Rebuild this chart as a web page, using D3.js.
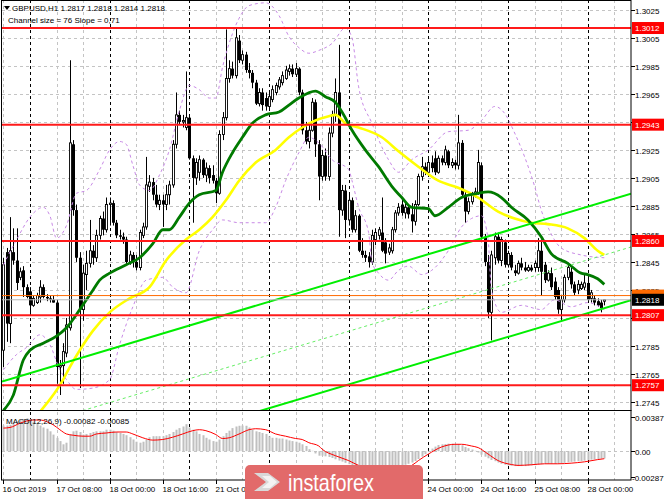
<!DOCTYPE html>
<html><head><meta charset="utf-8">
<script src="https://cdn.jsdelivr.net/npm/d3@7/dist/d3.min.js"></script>
<style>body{margin:0;background:#fff}svg{display:block}text{font-family:"Liberation Sans",Arial,sans-serif}</style>
</head><body><svg id="c" width="665" height="499"></svg>
<script>
// ---------- DATA ----------
const symbolTitle = "GBPUSD,H1  1.2817 1.2818 1.2814 1.2818";
const channelTitle = "Channel size = 76 Slope = 0,71";
const macdTitle = "MACD(12,26,9) -0.00082 -0.00085";
// [open, high, low, close] per H1 bar, 16 Oct 16:00 .. 28 Oct 05:00
const candles = [
[1.2782,1.2848,1.2770,1.2843],[1.2852,1.2855,1.2788,1.2801],[1.2801,1.2877,1.2787,1.2853],[1.2852,1.2869,1.2843,1.2846],[1.2846,1.2869,1.2825,1.2830],
[1.2834,1.2841,1.2832,1.2838],[1.2839,1.2842,1.2820,1.2827],[1.2827,1.2829,1.2819,1.2820],[1.2824,1.2827,1.2809,1.2814],[1.2814,1.2821,1.2813,1.2819],
[1.2816,1.2823,1.2815,1.2821],[1.2820,1.2832,1.2816,1.2827],[1.2827,1.2829,1.2819,1.2820],[1.2820,1.2822,1.2817,1.2819],[1.2819,1.2821,1.2816,1.2818],
[1.2818,1.2821,1.2816,1.2816],[1.2816,1.2818,1.2758,1.2770],[1.2770,1.2775,1.2750,1.2771],[1.2771,1.2787,1.2758,1.2781],[1.2780,1.2805,1.2777,1.2800],
[1.2798,1.2989,1.2796,1.2930],[1.2929,1.2932,1.2878,1.2882],[1.2882,1.2886,1.2845,1.2848],[1.2848,1.2852,1.2755,1.2811],[1.2811,1.2843,1.2803,1.2837],
[1.2836,1.2853,1.2825,1.2844],[1.2844,1.2875,1.2841,1.2853],[1.2853,1.2857,1.2843,1.2848],[1.2848,1.2868,1.2845,1.2864],[1.2864,1.2878,1.2861,1.2876],
[1.2876,1.2881,1.2864,1.2868],[1.2868,1.2891,1.2866,1.2886],[1.2886,1.2891,1.2871,1.2887],[1.2887,1.2889,1.2871,1.2873],[1.2873,1.2875,1.2862,1.2864],
[1.2864,1.2868,1.2861,1.2863],[1.2863,1.2866,1.2858,1.2861],[1.2861,1.2863,1.2843,1.2845],[1.2845,1.2853,1.2843,1.2850],[1.2850,1.2852,1.2841,1.2845],
[1.2845,1.2850,1.2839,1.2841],[1.2841,1.2868,1.2839,1.2866],[1.2864,1.2873,1.2862,1.2870],[1.2870,1.2920,1.2868,1.2900],[1.2899,1.2907,1.2895,1.2902],
[1.2902,1.2905,1.2889,1.2893],[1.2893,1.2900,1.2884,1.2886],[1.2886,1.2893,1.2882,1.2889],[1.2889,1.2893,1.2870,1.2886],[1.2886,1.2900,1.2882,1.2893],
[1.2893,1.2903,1.2886,1.2900],[1.2900,1.2932,1.2898,1.2929],[1.2929,1.2966,1.2926,1.2950],[1.2950,1.2953,1.2943,1.2945],[1.2945,1.2950,1.2941,1.2946],
[1.2941,1.2981,1.2939,1.2948],[1.2948,1.2950,1.2918,1.2919],[1.2919,1.2921,1.2873,1.2905],[1.2905,1.2919,1.2900,1.2916],[1.2909,1.2921,1.2903,1.2918],
[1.2918,1.2919,1.2905,1.2907],[1.2907,1.2916,1.2902,1.2912],[1.2912,1.2914,1.2901,1.2905],[1.2907,1.2914,1.2901,1.2903],[1.2903,1.2905,1.2887,1.2894],
[1.2894,1.2939,1.2893,1.2936],[1.2936,1.2952,1.2932,1.2948],[1.2948,1.3011,1.2946,1.2976],[1.2976,1.2989,1.2973,1.2983],[1.2983,1.2988,1.2976,1.2978],
[1.2978,1.3012,1.2976,1.3005],[1.3003,1.3007,1.2987,1.2989],[1.2989,1.2996,1.2986,1.2993],[1.2993,1.2995,1.2980,1.2982],[1.2982,1.2987,1.2976,1.2980],
[1.2980,1.2982,1.2969,1.2973],[1.2973,1.2975,1.2957,1.2958],[1.2958,1.2969,1.2956,1.2966],[1.2966,1.2969,1.2953,1.2957],[1.2962,1.2966,1.2953,1.2956],
[1.2956,1.2966,1.2953,1.2963],[1.2961,1.2971,1.2959,1.2968],[1.2966,1.2973,1.2964,1.2971],[1.2970,1.2977,1.2968,1.2975],[1.2973,1.2981,1.2971,1.2978],
[1.2976,1.2985,1.2975,1.2982],[1.2981,1.2986,1.2978,1.2983],[1.2983,1.2986,1.2977,1.2979],[1.2979,1.2987,1.2977,1.2983],[1.2983,1.2984,1.2964,1.2966],
[1.2966,1.2968,1.2936,1.2939],[1.2939,1.2945,1.2929,1.2931],[1.2931,1.2943,1.2926,1.2939],[1.2939,1.2962,1.2938,1.2959],[1.2959,1.2961,1.2920,1.2929],
[1.2929,1.2932,1.2889,1.2906],[1.2906,1.2925,1.2903,1.2921],[1.2921,1.2926,1.2903,1.2906],[1.2906,1.2941,1.2903,1.2937],[1.2937,1.2953,1.2934,1.2950],
[1.2950,1.2976,1.2945,1.2966],[1.2966,1.3000,1.2863,1.2882],[1.2882,1.2900,1.2878,1.2896],[1.2896,1.2900,1.2862,1.2875],[1.2875,1.2893,1.2871,1.2889],
[1.2889,1.2891,1.2866,1.2868],[1.2868,1.2882,1.2866,1.2878],[1.2878,1.2879,1.2852,1.2853],[1.2853,1.2862,1.2848,1.2850],[1.2850,1.2853,1.2845,1.2848],
[1.2849,1.2852,1.2841,1.2845],[1.2845,1.2868,1.2843,1.2864],[1.2861,1.2869,1.2857,1.2866],[1.2864,1.2870,1.2861,1.2868],[1.2866,1.2891,1.2852,1.2853],
[1.2859,1.2862,1.2844,1.2851],[1.2852,1.2858,1.2850,1.2855],[1.2853,1.2870,1.2851,1.2868],[1.2868,1.2882,1.2866,1.2880],[1.2880,1.2887,1.2878,1.2884],
[1.2886,1.2891,1.2878,1.2880],[1.2880,1.2887,1.2876,1.2884],[1.2884,1.2886,1.2876,1.2879],[1.2879,1.2887,1.2866,1.2874],[1.2874,1.2889,1.2871,1.2886],
[1.2886,1.2908,1.2885,1.2906],[1.2906,1.2920,1.2903,1.2913],[1.2913,1.2916,1.2907,1.2909],[1.2909,1.2919,1.2908,1.2916],[1.2916,1.2921,1.2909,1.2912],
[1.2919,1.2924,1.2907,1.2909],[1.2909,1.2921,1.2908,1.2919],[1.2919,1.2921,1.2914,1.2916],[1.2916,1.2928,1.2914,1.2925],[1.2924,1.2925,1.2912,1.2914],
[1.2914,1.2919,1.2912,1.2916],[1.2916,1.2918,1.2911,1.2914],[1.2914,1.2950,1.2911,1.2930],[1.2930,1.2932,1.2891,1.2893],[1.2893,1.2895,1.2873,1.2881],
[1.2881,1.2891,1.2879,1.2888],[1.2888,1.2895,1.2886,1.2893],[1.2893,1.2898,1.2891,1.2895],[1.2894,1.2925,1.2893,1.2916],[1.2914,1.2916,1.2861,1.2863],
[1.2863,1.2865,1.2842,1.2845],[1.2845,1.2850,1.2805,1.2809],[1.2809,1.2853,1.2789,1.2850],[1.2848,1.2866,1.2843,1.2863],[1.2863,1.2866,1.2844,1.2846],
[1.2846,1.2863,1.2842,1.2861],[1.2859,1.2861,1.2841,1.2843],[1.2843,1.2853,1.2841,1.2851],[1.2850,1.2852,1.2839,1.2841],[1.2839,1.2843,1.2835,1.2837],
[1.2837,1.2846,1.2836,1.2844],[1.2844,1.2848,1.2839,1.2841],[1.2841,1.2845,1.2838,1.2839],[1.2839,1.2843,1.2838,1.2841],[1.2841,1.2843,1.2838,1.2839],
[1.2841,1.2846,1.2838,1.2844],[1.2841,1.2862,1.2838,1.2853],[1.2853,1.2861,1.2821,1.2838],[1.2843,1.2845,1.2830,1.2832],[1.2832,1.2839,1.2831,1.2837],
[1.2837,1.2841,1.2825,1.2827],[1.2831,1.2834,1.2818,1.2820],[1.2825,1.2827,1.2808,1.2811],[1.2811,1.2821,1.2803,1.2818],[1.2818,1.2836,1.2816,1.2834],
[1.2834,1.2844,1.2832,1.2841],[1.2838,1.2841,1.2826,1.2829],[1.2829,1.2831,1.2821,1.2823],[1.2825,1.2832,1.2822,1.2829],[1.2826,1.2831,1.2825,1.2829],
[1.2827,1.2836,1.2825,1.2830],[1.2830,1.2836,1.2816,1.2818],[1.2819,1.2825,1.2816,1.2823],[1.2819,1.2821,1.2814,1.2816],[1.2817,1.2819,1.2813,1.2814],
[1.2816,1.2818,1.2809,1.2812],[1.2817,1.2818,1.2814,1.2818]
];
// moving averages [bar, price]
const maGreen = [[0,1.2739],[3,1.2750],[6,1.2775],[8,1.2782],[12,1.2787],[16,1.2792],[19,1.2798],[23,1.2811],[27,1.2825],[29,1.2832],[32,1.2837],[37,1.2843],[41,1.2848],[45,1.2858],[48,1.2868],[50,1.2868],[53,1.2877],[56,1.2887],[59,1.2893],[64,1.2896],[66,1.2909],[69,1.2923],[72,1.2934],[75,1.2944],[79,1.2950],[83,1.2952],[86,1.2957],[89,1.2962],[94,1.2967],[97,1.2963],[100,1.2959],[102,1.2952],[105,1.2939],[109,1.2925],[113,1.2913],[117,1.2899],[120,1.2891],[123,1.2884],[128,1.2883],[130,1.2878],[134,1.2884],[138,1.2891],[143,1.2894],[146,1.2895],[150,1.2891],[153,1.2884],[158,1.2875],[162,1.2863],[165,1.2851],[170,1.2844],[174,1.2837],[176,1.2836],[179,1.2833],[181,1.2829]];
const maYellow = [[11,1.2738],[18,1.2761],[20,1.2770],[23,1.2782],[27,1.2796],[32,1.2809],[38,1.2819],[44,1.2827],[49,1.2846],[55,1.2861],[59,1.2868],[63,1.2877],[67,1.2889],[71,1.2903],[76,1.2916],[82,1.2925],[86,1.2934],[90,1.2941],[94,1.2946],[98,1.2949],[100,1.2950],[103,1.2944],[107,1.2941],[114,1.2934],[119,1.2924],[125,1.2913],[131,1.2903],[137,1.2898],[143,1.2891],[149,1.2881],[154,1.2876],[159,1.2873],[164,1.2872],[170,1.2869],[175,1.2862],[179,1.2853],[181,1.2850]];
// envelope bands [bar, price]
const bandUpper = [[0,1.2843],[4,1.2861],[8,1.2877],[12,1.2884],[14,1.2878],[16,1.2862],[19,1.2871],[22,1.2894],[25,1.2896],[29,1.2911],[32,1.2925],[35,1.2931],[37,1.2929],[39,1.2914],[41,1.2900],[44,1.2896],[47,1.2907],[50,1.2925],[53,1.2953],[56,1.2971],[59,1.2968],[62,1.2962],[64,1.2962],[66,1.2984],[69,1.3008],[71,1.3019],[74,1.3028],[79,1.3030],[83,1.3021],[86,1.3006],[89,1.2998],[92,1.2994],[95,1.2996],[99,1.3001],[103,1.3012],[105,1.3005],[107,1.2970],[111,1.2944],[116,1.2918],[119,1.2909],[123,1.2918],[128,1.2925],[134,1.2938],[140,1.2939],[144,1.2946],[148,1.2956],[151,1.2951],[154,1.2937],[157,1.2920],[160,1.2899],[162,1.2882],[164,1.2870],[168,1.2855],[174,1.2850],[181,1.2848]];
const bandLower = [[0,1.2768],[4,1.2779],[7,1.2784],[11,1.2793],[14,1.2786],[17,1.2768],[19,1.2761],[22,1.2754],[27,1.2755],[32,1.2761],[35,1.2786],[39,1.2813],[43,1.2832],[48,1.2834],[51,1.2827],[55,1.2823],[59,1.2853],[63,1.2868],[66,1.2875],[71,1.2873],[79,1.2873],[82,1.2884],[85,1.2903],[89,1.2923],[92,1.2934],[95,1.2930],[99,1.2918],[104,1.2911],[105,1.2903],[107,1.2884],[110,1.2866],[111,1.2845],[113,1.2837],[116,1.2832],[119,1.2839],[122,1.2842],[126,1.2836],[129,1.2839],[134,1.2853],[138,1.2870],[141,1.2876],[144,1.2878],[146,1.2861],[147,1.2825],[150,1.2809],[156,1.2814],[162,1.2811],[166,1.2818],[171,1.2813],[176,1.2816],[181,1.2811]];
// equidistant channel: anchors of upper line [bar, price], width in price
const channelStart = [0, 1.2760];
const channelEnd = [181, 1.2888];
const channelSize = 0.0076;
// horizontal levels
const levels = [1.3012, 1.2943, 1.2860, 1.2807, 1.2757];
const askPrice = 1.2821, bidPrice = 1.2818;
const priceTicks = [1.3025,1.3005,1.2985,1.2965,1.2945,1.2925,1.2905,1.2885,1.2865,1.2845,1.2825,1.2805,1.2785,1.2765,1.2745];
// MACD histogram per bar
const macdHist = [
0.00288,0.00288,0.00296,0.00314,0.00332,0.00350,0.00361,0.00369,0.00361,0.00332,0.00314,0.00288,0.00266,0.00252,0.00223,0.00186,0.00150,0.00113,0.00077,0.00095,
0.00186,0.00223,0.00230,0.00215,0.00186,0.00193,0.00204,0.00215,0.00223,0.00223,0.00223,0.00241,0.00241,0.00230,0.00215,0.00204,0.00193,0.00179,0.00157,0.00131,
0.00106,0.00095,0.00106,0.00131,0.00157,0.00168,0.00168,0.00168,0.00168,0.00179,0.00193,0.00215,0.00241,0.00259,0.00277,0.00303,0.00266,0.00241,0.00223,0.00193,
0.00179,0.00150,0.00131,0.00113,0.00106,0.00131,0.00168,0.00204,0.00230,0.00259,0.00277,0.00285,0.00288,0.00285,0.00266,0.00241,0.00223,0.00215,0.00204,0.00193,
0.00168,0.00150,0.00150,0.00142,0.00142,0.00131,0.00120,0.00113,0.00106,0.00095,0.00077,0.00058,0.00022,0.00004,-0.00026,-0.00051,-0.00051,-0.00058,-0.00066,-0.00077,
-0.00091,-0.00106,-0.00117,-0.00131,-0.00146,-0.00157,-0.00170,-0.00185,-0.00200,-0.00210,-0.00220,-0.00220,-0.00210,-0.00210,-0.00210,-0.00210,-0.00200,-0.00190,-0.00180,-0.00170,
-0.00160,-0.00153,-0.00142,-0.00128,-0.00110,-0.00088,-0.00062,-0.00033,0.00004,0.00029,0.00051,0.00069,0.00077,0.00080,0.00084,0.00084,0.00080,0.00077,0.00066,0.00047,
0.00033,0.00018,0.00004,-0.00015,-0.00040,-0.00062,-0.00080,-0.00099,-0.00113,-0.00128,-0.00142,-0.00153,-0.00160,-0.00164,-0.00168,-0.00168,-0.00168,-0.00168,-0.00164,-0.00160,
-0.00157,-0.00150,-0.00146,-0.00142,-0.00142,-0.00142,-0.00142,-0.00139,-0.00135,-0.00131,-0.00124,-0.00120,-0.00117,-0.00113,-0.00110,-0.00106,-0.00099,-0.00095,-0.00091,-0.00088,-0.00084,-0.00082
];
// MACD signal [bar, value]
const macdSignal = [[0,0.00259],[2,0.00266],[5,0.00314],[7,0.00339],[9,0.00350],[11,0.00350],[13,0.00332],[15,0.00296],[17,0.00241],[19,0.00193],[21,0.00179],[24,0.00168],[26,0.00168],[28,0.00193],[31,0.00204],[34,0.00215],[37,0.00215],[39,0.00193],[42,0.00150],[45,0.00124],[48,0.00131],[51,0.00157],[54,0.00193],[57,0.00230],[59,0.00241],[61,0.00230],[64,0.00186],[66,0.00142],[68,0.00150],[71,0.00193],[74,0.00241],[76,0.00252],[79,0.00241],[82,0.00193],[85,0.00168],[88,0.00142],[90,0.00131],[92,0.00095],[95,0.00058],[96,0.00022],[100,-0.00051],[104,-0.00106],[107,-0.00160],[110,-0.00190],[115,-0.00200],[120,-0.00190],[123,-0.00160],[125,-0.00106],[128,-0.00033],[132,0.00047],[136,0.00077],[138,0.00077],[141,0.00058],[143,0.00040],[146,-0.00033],[149,-0.00106],[153,-0.00150],[155,-0.00160],[159,-0.00153],[163,-0.00142],[167,-0.00142],[171,-0.00135],[175,-0.00120],[179,-0.00095],[181,-0.00085]];
const macdTicks = [0.00387, 0.00, -0.00287];
const macdTickLabels = ["0.00387", "0.00", "-0.00287"];
// time axis labels [bar, text]
const timeLabels = [[0,"16 Oct 2019"],[16,"17 Oct 08:00"],[32,"18 Oct 00:00"],[48,"18 Oct 16:00"],[64,"21 Oct 08:00"],[80,"22 Oct 00:00"],[96,"22 Oct 16:00"],[112,"23 Oct 08:00"],[128,"24 Oct 00:00"],[144,"24 Oct 16:00"],[160,"25 Oct 08:00"],[176,"28 Oct 00:00"]];
const gridStep = 8, daySepFirst = 8, daySepStep = 24;

// ---------- CHART ----------
const svg = d3.select("#c");
const L = 2, R = 631, T = 0, B = 410, MT = 412, MB = 480;
const x = d3.scaleLinear().domain([0, candles.length - 1]).range([3.4, 3.4 + 3.32 * (candles.length - 1)]);
const y = d3.scaleLinear().domain([1.27386, 1.3032]).range([411, 0]);
const ym = d3.scaleLinear().domain([-0.00287, 0.00387]).range([476.7, 416.7]);
const FS = 8;
const logo = {x: 245, y: 465, w: 178, h: 45};

svg.append("rect").attr("width", 665).attr("height", 499).attr("fill", "#fff");
const defs = svg.append("defs");
defs.append("clipPath").attr("id", "cm").append("rect").attr("x", L).attr("y", T).attr("width", R - L).attr("height", B - T);
defs.append("clipPath").attr("id", "cd").append("rect").attr("x", L).attr("y", MT).attr("width", R - L).attr("height", MB - MT);
const gMain = svg.append("g").attr("clip-path", "url(#cm)");
const gMacd = svg.append("g").attr("clip-path", "url(#cd)");

const iMax = Math.floor(x.invert(R));
// grids
priceTicks.forEach(p => {
  const yy = Math.round(y(p)) + 0.5;
  gMain.append("line").attr("x1", L).attr("x2", R).attr("y1", yy).attr("y2", yy)
    .attr("stroke", "#c4c4c4").attr("stroke-dasharray", "3,3");
});
d3.range(0, iMax + 1, gridStep).forEach(i => {
  const xx = Math.round(x(i)) + 0.5;
  [[gMain, T, B], [gMacd, MT, MB]].forEach(([g, a, b]) =>
    g.append("line").attr("x1", xx).attr("x2", xx).attr("y1", a).attr("y2", b)
      .attr("stroke", "#c4c4c4").attr("stroke-dasharray", "3,3"));
});
{
  const yy = Math.round(ym(0)) + 0.5;
  gMacd.append("line").attr("x1", L).attr("x2", R).attr("y1", yy).attr("y2", yy)
    .attr("stroke", "#c4c4c4").attr("stroke-dasharray", "3,3");
}
d3.range(daySepFirst, iMax + 1, daySepStep).forEach(i => {
  const xx = Math.round(x(i)) + 0.5;
  [[gMain, T, B], [gMacd, MT, MB]].forEach(([g, a, b]) =>
    g.append("line").attr("x1", xx).attr("x2", xx).attr("y1", a).attr("y2", b)
      .attr("stroke", "#000").attr("stroke-dasharray", "3,3"));
});

// candles
const cg = gMain.append("g");
candles.forEach((c, i) => {
  const [o, h, l, cl] = c;
  const cx = Math.round(x(i)) + 0.5;
  cg.append("line").attr("x1", cx).attr("x2", cx).attr("y1", y(h)).attr("y2", y(l)).attr("stroke", "#000").attr("stroke-width", 1);
  const top = y(Math.max(o, cl)), bot = y(Math.min(o, cl));
  const hgt = Math.max(1, bot - top);
  if (cl >= o) {
    cg.append("rect").attr("x", cx - 1).attr("y", top).attr("width", 2).attr("height", hgt)
      .attr("fill", "#fff").attr("stroke", "#000").attr("stroke-width", 0.9);
  } else {
    cg.append("rect").attr("x", cx - 1.5).attr("y", top).attr("width", 3).attr("height", hgt).attr("fill", "#000");
  }
});

// bands
const lineP = d3.line().x(d => x(d[0])).y(d => y(d[1])).curve(d3.curveMonotoneX);
[bandUpper, bandLower].forEach(b => gMain.append("path").datum(b).attr("d", lineP)
  .attr("fill", "none").attr("stroke", "#c88ae6").attr("stroke-width", 1).attr("stroke-dasharray", "3,3"));
// moving averages
gMain.append("path").datum(maYellow).attr("d", lineP).attr("fill", "none").attr("stroke", "#ffff00").attr("stroke-width", 2.6);
gMain.append("path").datum(maGreen).attr("d", lineP).attr("fill", "none").attr("stroke", "#007a00").attr("stroke-width", 2.8);

// channel
const slope = (channelEnd[1] - channelStart[1]) / (channelEnd[0] - channelStart[0]);
const iL = x.invert(L), iR = x.invert(R);
[[0, "#00ee00", 2, null], [channelSize / 2, "#66ee66", 1, "3,3"], [channelSize, "#00ee00", 2, null]].forEach(([off, col, w, dash]) => {
  const p1 = channelStart[1] + slope * (iL - channelStart[0]) - off;
  const p2 = channelStart[1] + slope * (iR - channelStart[0]) - off;
  const ln = gMain.append("line").attr("x1", x(iL)).attr("x2", x(iR)).attr("y1", y(p1)).attr("y2", y(p2))
    .attr("stroke", col).attr("stroke-width", w);
  if (dash) ln.attr("stroke-dasharray", dash);
});

// bid / ask lines
gMain.append("line").attr("x1", L).attr("x2", R).attr("y1", y(askPrice)).attr("y2", y(askPrice)).attr("stroke", "#ff6a00").attr("stroke-width", 1);
gMain.append("line").attr("x1", L).attr("x2", R).attr("y1", y(bidPrice)).attr("y2", y(bidPrice)).attr("stroke", "#b8b8b8").attr("stroke-width", 1);
// levels
levels.forEach(p => gMain.append("line").attr("x1", L).attr("x2", R).attr("y1", y(p)).attr("y2", y(p)).attr("stroke", "#ff1a1a").attr("stroke-width", 2));

// MACD
const bw = 2;
macdHist.forEach((v, i) => {
  const cx = Math.round(x(i));
  const y0 = ym(0), y1 = ym(v);
  gMacd.append("rect").attr("x", cx - 0.5).attr("y", Math.min(y0, y1)).attr("width", bw).attr("height", Math.abs(y1 - y0)).attr("fill", "#c0c0c0");
});
const lineM = d3.line().x(d => x(d[0])).y(d => ym(d[1])).curve(d3.curveMonotoneX);
gMacd.append("path").datum(macdSignal).attr("d", lineM).attr("fill", "none").attr("stroke", "#ff0000").attr("stroke-width", 1);

// frames
const fr = svg.append("g").attr("fill", "none").attr("stroke", "#000").attr("stroke-width", 1);
fr.append("rect").attr("x", 1.5).attr("y", 0.5).attr("width", R - 1.5).attr("height", B);
fr.append("rect").attr("x", 1.5).attr("y", MT - 1.5).attr("width", R - 1.5).attr("height", MB - MT + 1.5);

// price axis
const ax = svg.append("g");
const boxPrices = levels.concat([bidPrice]);
priceTicks.forEach(p => {
  const yy = Math.round(y(p)) + 0.5;
  ax.append("line").attr("x1", R).attr("x2", R + 4).attr("y1", yy).attr("y2", yy).attr("stroke", "#000");
  // labels fully covered by a level box in the reference are not drawn
  const covered = boxPrices.some(b => Math.abs(y(b) - y(p)) < 4);
  if (!covered) ax.append("text").attr("x", 635).attr("y", yy + 3).attr("font-size", FS).attr("fill", "#000").text(d3.format(".4f")(p));
});
function box(p, fill, txt, col) {
  const yy = y(p);
  ax.append("rect").attr("x", R + 1).attr("y", yy - 6).attr("width", 32).attr("height", 12).attr("fill", fill);
  ax.append("text").attr("x", 635).attr("y", yy + 3).attr("font-size", FS).attr("fill", col).text(txt);
}
levels.forEach(p => box(p, "#ff0000", d3.format(".4f")(p), "#fff"));
box(askPrice, "#ff6a00", d3.format(".4f")(askPrice), "#fff");
box(bidPrice, "#000", d3.format(".4f")(bidPrice), "#fff");
// macd axis
macdTicks.forEach((v, k) => {
  const yy = Math.round(ym(v)) + 0.5;
  ax.append("line").attr("x1", R).attr("x2", R + 4).attr("y1", yy).attr("y2", yy).attr("stroke", "#000");
  ax.append("text").attr("x", v < 0 ? 632 : 635).attr("y", yy + 3).attr("font-size", FS).text(macdTickLabels[k]);
});
// time axis (labels that sit entirely under the watermark are hidden, as in the reference)
timeLabels.forEach(([i, t]) => {
  const xx = Math.round(x(i)) + 0.5;
  ax.append("line").attr("x1", xx).attr("x2", xx).attr("y1", MB).attr("y2", MB + 4).attr("stroke", "#000");
  if (xx > logo.x && xx < logo.x + logo.w) return;
  ax.append("text").attr("x", xx - 1).attr("y", 492).attr("font-size", FS).text(t);
});

// titles
svg.append("path").attr("d", "M4,6 L10,6 L7,10 Z").attr("fill", "#000");
svg.append("text").attr("x", 12).attr("y", 11).attr("font-size", FS).text(symbolTitle);
svg.append("text").attr("x", 8).attr("y", 23).attr("font-size", FS).text(channelTitle);
svg.append("text").attr("x", 6).attr("y", 424).attr("font-size", FS).text(macdTitle);

// watermark logo
const lg = svg.append("g");
lg.append("rect").attr("x", logo.x).attr("y", logo.y).attr("width", logo.w).attr("height", logo.h).attr("rx", 5).attr("fill", "#e26a6a");
lg.append("path").attr("d", "M254,473 L268,473 L280,482 L268,491 L254,491 L266,482 Z").attr("fill", "#d9d9d9");
lg.append("path").attr("d", "M262,476 L270,476 L277,482 L270,488 L262,488 L269,482 Z").attr("fill", "#ffffff").attr("opacity", 0.7);
lg.append("text").attr("x", 288).attr("y", 491).attr("font-size", 24).attr("fill", "#fff")
  .attr("font-family", "'Open Sans',Roboto,sans-serif").attr("textLength", 86).attr("lengthAdjust", "spacingAndGlyphs").text("instaforex");
</script></body></html>
